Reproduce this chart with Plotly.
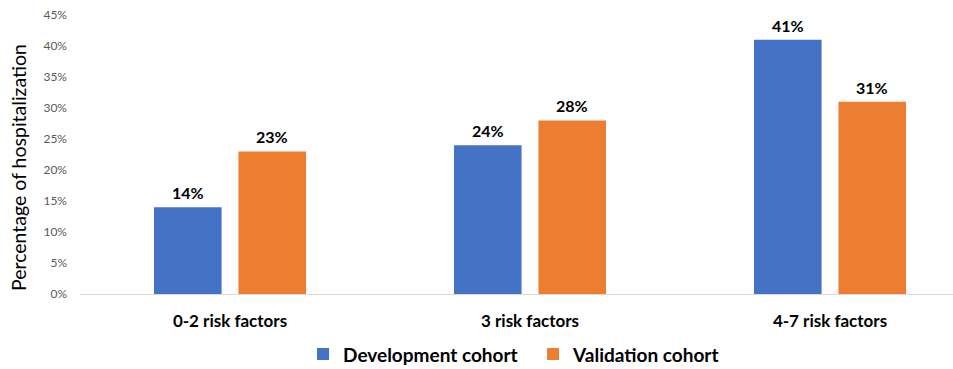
import plotly.graph_objects as go

categories = ["0-2 risk factors", "3 risk factors", "4-7 risk factors"]
development = [14, 24, 41]
validation = [23, 28, 31]
y_ticks = [0, 5, 10, 15, 20, 25, 30, 35, 40, 45]

FONT = "Lato"
BLUE = "#4472C4"
ORANGE = "#ED7D31"

series = [
    ("Development cohort", development, BLUE, -42),
    ("Validation cohort", validation, ORANGE, 42),
]

fig = go.Figure()
for name, vals, color, _ in series:
    fig.add_trace(go.Bar(
        x=categories,
        y=vals,
        name=name,
        marker=dict(color=color, line=dict(width=0)),
    ))

# value labels above each bar
for name, vals, color, dx in series:
    for cat, v in zip(categories, vals):
        fig.add_annotation(
            x=cat, y=v, xref="x", yref="y",
            text=f"{v}%", showarrow=False,
            xshift=dx, yshift=3, yanchor="bottom",
            font=dict(family=FONT, size=16, color="#000000", weight="bold"),
        )

# y-axis title, placed in paper coordinates from pixel offsets
plot_w, plot_h = 953 - 80, 369 - 15 - 75
fig.add_annotation(
    x=(18 - 80) / plot_w, xref="paper", xanchor="center",
    y=(369 - 75 - 168) / plot_h, yref="paper", yanchor="middle",
    text="Percentage of hospitalization", textangle=-90, showarrow=False,
    font=dict(family=FONT, size=19.5, color="#000000"),
)

fig.update_layout(
    width=953,
    height=369,
    margin=dict(l=80, r=0, t=15, b=75, autoexpand=False),
    paper_bgcolor="white",
    plot_bgcolor="white",
    barmode="group",
    bargap=0.437,
    bargroupgap=0.2,
    font=dict(family=FONT),
    showlegend=True,
    legend=dict(
        orientation="h",
        x=0.318,
        xanchor="left",
        xref="container",
        y=0.04,
        yanchor="middle",
        yref="container",
        entrywidth=185,
        entrywidthmode="pixels",
        font=dict(family=FONT, size=19, color="#000000", weight="bold"),
        traceorder="normal",
    ),
)

fig.update_xaxes(
    range=[-0.5, 2.41],
    automargin=False,
    showline=True,
    linecolor="#D9D9D9",
    linewidth=1,
    showgrid=False,
    ticks="",
    ticklabelstandoff=12,
    tickfont=dict(family=FONT, size=17, color="#000000", weight="bold"),
)

fig.update_yaxes(
    range=[0, 45],
    automargin=False,
    tickvals=y_ticks,
    ticktext=[f"{t}%" for t in y_ticks],
    showgrid=False,
    zeroline=False,
    showline=False,
    ticks="",
    ticklabelstandoff=12,
    tickfont=dict(family=FONT, size=12, color="#595959"),
)

fig.write_html("out.html")
